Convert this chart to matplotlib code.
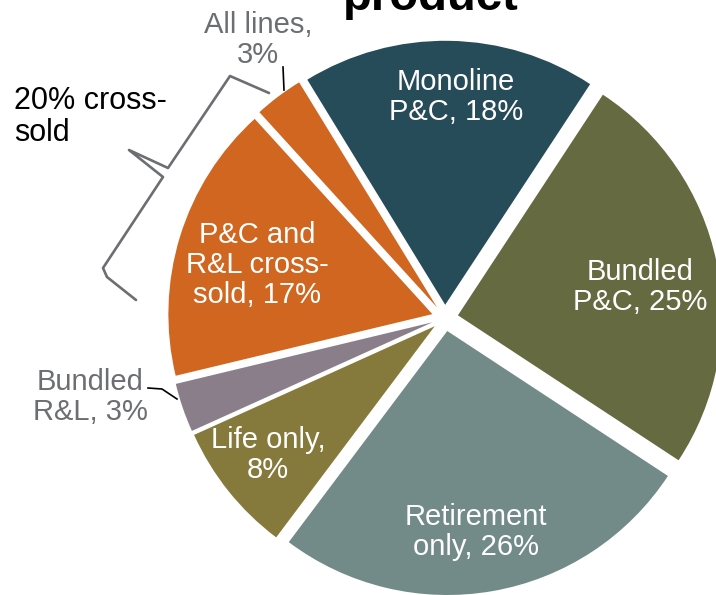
import matplotlib.pyplot as plt

plt.rcParams["font.family"] = ["Liberation Sans", "DejaVu Sans"]

# Share of customers by product holding (%), clockwise from the top
categories = ["Monoline P&C", "Bundled P&C", "Retirement only", "Life only",
              "Bundled R&L", "P&C and R&L cross-sold", "All lines"]
shares = [18, 25, 26, 8, 3, 17, 3]
label_texts = ["Monoline\nP&C, 18%", "Bundled\nP&C, 25%", "Retirement\nonly, 26%",
               "Life only,\n8%", "Bundled\nR&L, 3%", "P&C and\nR&L cross-\nsold, 17%",
               "All lines,\n3%"]
colors = ["#264B59", "#656A40", "#728B88", "#857A3C", "#8A7E8A", "#D0661F", "#D0661F"]
cross_sold_note = "20% cross-\nsold"
title = "product"

W, H = 716, 595
CX, CY, R = 445, 318, 264


def px(x, y):
    # pixel position (from top-left) -> data coords of the pie axes
    return (x - CX) / R, (CY - y) / R


fig = plt.figure(figsize=(W / 100, H / 100), dpi=100)
ax = fig.add_axes([0, 0, 1, 1])

ax.pie(shares, colors=colors, startangle=121.5, counterclock=False,
       explode=[0.05] * len(shares), radius=1, center=(0, 0),
       wedgeprops=dict(linewidth=0))

ax.set_xlim(-CX / R, (W - CX) / R)
ax.set_ylim(-(H - CY) / R, CY / R)
ax.set_aspect("auto")
ax.axis("off")

# labels: white inside, gray outside for the thin slices
pos = [(456, 97), (640, 287), (476, 532), (268, 455), (90, 397), (257, 265), (258, 40)]
inside = [True, True, True, True, False, True, False]
for txt, (x, y), inn in zip(label_texts, pos, inside):
    ax.text(*px(x, y), txt, ha="center", va="center", fontsize=21,
            color="white" if inn else "#6d6e71", linespacing=1.1)

# leader lines
ax.plot(*zip(px(283, 67), px(284, 90)), color="black", lw=1.2)
ax.plot(*zip(px(148, 388), px(162, 389), px(177, 399)), color="black", lw=1.2)

# curly brace around the cross-sold slices
brace = [(269, 93), (230, 76), (168, 168), (129, 150), (163, 177),
         (103, 268), (107, 277), (136, 300)]
bx, by = zip(*[px(x, y) for x, y in brace])
ax.plot(bx, by, color="#6d6e71", lw=1.9, solid_joinstyle="round",
        solid_capstyle="round")

ax.text(*px(14, 117), cross_sold_note, ha="left", va="center", fontsize=22,
        color="black", linespacing=1.1)

fig.text(431 / W, 1 - 10 / H, title, ha="center", va="baseline",
         fontsize=34, fontweight="bold")

fig.savefig("out.png", dpi=100)
